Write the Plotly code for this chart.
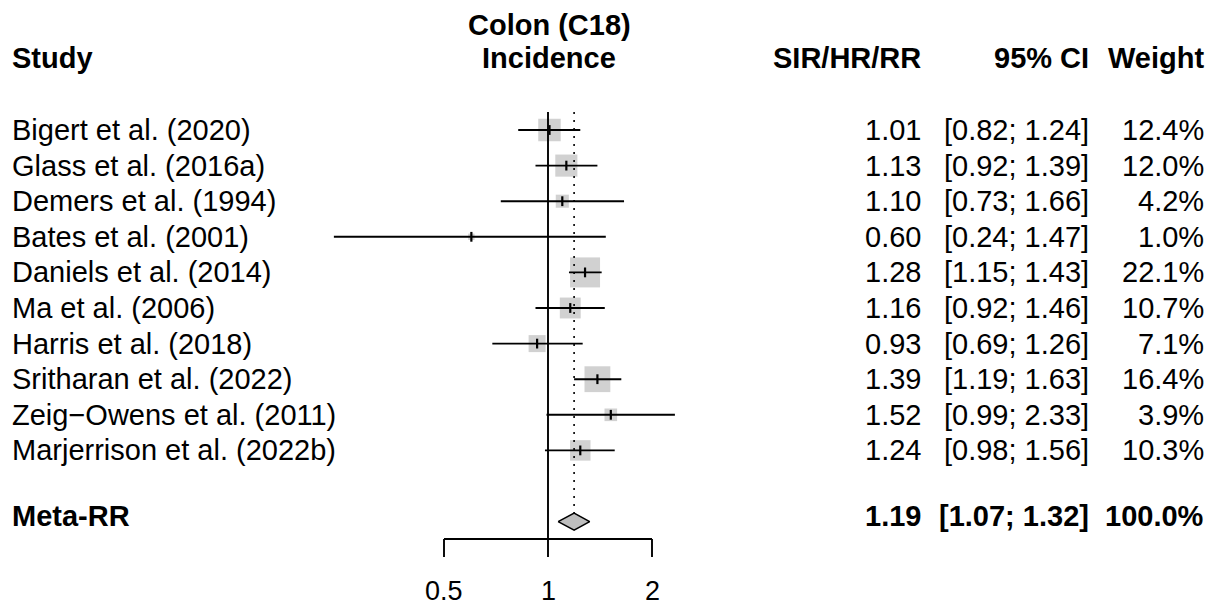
import math
import plotly.graph_objects as go

# ---------------- data ----------------
studies = ["Bigert et al. (2020)", "Glass et al. (2016a)", "Demers et al. (1994)",
           "Bates et al. (2001)", "Daniels et al. (2014)", "Ma et al. (2006)",
           "Harris et al. (2018)", "Sritharan et al. (2022)",
           "Zeig\u2212Owens et al. (2011)", "Marjerrison et al. (2022b)"]
estimates = [1.01, 1.13, 1.10, 0.60, 1.28, 1.16, 0.93, 1.39, 1.52, 1.24]
lower_ci = [0.82, 0.92, 0.73, 0.24, 1.15, 0.92, 0.69, 1.19, 0.99, 0.98]
upper_ci = [1.24, 1.39, 1.66, 1.47, 1.43, 1.46, 1.26, 1.63, 2.33, 1.56]
weights = [12.4, 12.0, 4.2, 1.0, 22.1, 10.7, 7.1, 16.4, 3.9, 10.3]
meta_label = "Meta-RR"
meta_est, meta_lower, meta_upper, meta_weight = 1.19, 1.07, 1.32, 100.0
tick_values = [0.5, 1, 2]
tick_labels = ["0.5", "1", "2"]
header_study = "Study"
header_plot = ["Colon (C18)", "Incidence"]
header_cols = ["SIR/HR/RR", "95% CI", "Weight"]

# ---------------- layout geometry ----------------
W, H = 1216, 607
FONT = "Liberation Sans, Arial, Helvetica, sans-serif"
FS = 29
GRAY = "#BEBEBE"
LW = 1.9
ROW0_PX, ROW_PX = 130.0, 35.6          # pixel centre of first row, row spacing
X1_PX, OCT_PX = 548.0, 104.0            # pixel of value 1, pixels per doubling

def row_of(px):
    return (px - ROW0_PX) / ROW_PX

def log10_of_px(px):
    return (px - X1_PX) / OCT_PX * math.log10(2)

n = len(studies)
rows = list(range(n))
meta_row = n + 1

fig = go.Figure()

# confidence interval lines
ci_x, ci_y = [], []
for r, lo, hi in zip(rows, lower_ci, upper_ci):
    ci_x += [lo, hi, None]
    ci_y += [r, r, None]

# squares (side proportional to sqrt(weight))
k = 30.0 / math.sqrt(max(weights))
fig.add_trace(go.Scatter(
    x=estimates, y=rows, mode="markers",
    marker=dict(symbol="square", size=[k * math.sqrt(w) for w in weights],
                color=GRAY, line=dict(width=0)),
    hoverinfo="skip", showlegend=False))
fig.add_trace(go.Scatter(
    x=ci_x, y=ci_y, mode="lines", line=dict(color="black", width=LW),
    hoverinfo="skip", showlegend=False))
fig.add_trace(go.Scatter(
    x=estimates, y=rows, mode="markers",
    marker=dict(symbol="line-ns", size=7, line=dict(color="black", width=2.2)),
    hoverinfo="skip", showlegend=False))

# diamond
dh = 0.24
fig.add_trace(go.Scatter(
    x=[meta_lower, meta_est, meta_upper, meta_est, meta_lower],
    y=[meta_row, meta_row - dh, meta_row, meta_row + dh, meta_row],
    mode="lines", fill="toself", fillcolor=GRAY,
    line=dict(color="black", width=1.6), hoverinfo="skip", showlegend=False))

# reference lines and axis
axis_row = row_of(539)
tick_row = row_of(557)
top_row = row_of(112)
shapes = [
    dict(type="line", xref="x", yref="y", x0=1, x1=1, y0=top_row, y1=axis_row,
         line=dict(color="black", width=LW)),
    dict(type="line", xref="x", yref="y", x0=meta_est, x1=meta_est, y0=top_row,
         y1=meta_row - dh, line=dict(color="black", width=1.6, dash="2px,6px")),
    dict(type="line", xref="x", yref="y", x0=min(tick_values), x1=max(tick_values),
         y0=axis_row, y1=axis_row, line=dict(color="black", width=LW)),
]
for tv in tick_values:
    shapes.append(dict(type="line", xref="x", yref="y", x0=tv, x1=tv,
                       y0=axis_row, y1=tick_row, line=dict(color="black", width=LW)))

annotations = []

def txt(text, xpx, row, anchor, bold=False, yshift=0):
    annotations.append(dict(
        text=f"<b>{text}</b>" if bold else text, xref="paper", yref="y",
        x=xpx / W, y=row, xanchor=anchor, yanchor="middle", showarrow=False,
        yshift=yshift, borderpad=0,
        font=dict(family=FONT, size=FS, color="black")))

COL_STUDY, COL_EST, COL_CI, COL_W = 11, 922, 1090, 1205

# headers
hdr_row = row_of(58)
txt(header_study, COL_STUDY, hdr_row, "left", True)
txt(header_plot[0], 549, row_of(25), "center", True)
txt(header_plot[1], 549, hdr_row, "center", True)
for label, xpx in zip(header_cols, [COL_EST, COL_CI, COL_W]):
    txt(label, xpx, hdr_row, "right", True)

# study rows
for r, s, e, lo, hi, w in zip(rows, studies, estimates, lower_ci, upper_ci, weights):
    txt(s, COL_STUDY, r, "left")
    txt(f"{e:.2f}", COL_EST, r, "right")
    txt(f"[{lo:.2f}; {hi:.2f}]", COL_CI, r, "right")
    txt(f"{w:.1f}%", COL_W, r, "right")

# meta row
ms = 6
txt(meta_label, COL_STUDY, meta_row, "left", True, ms)
txt(f"{meta_est:.2f}", COL_EST, meta_row, "right", True, ms)
txt(f"[{meta_lower:.2f}; {meta_upper:.2f}]", COL_CI, meta_row, "right", True, ms)
txt(f"{meta_weight:.1f}%", COL_W, meta_row, "right", True, ms)

# tick labels
for tv, tl in zip(tick_values, tick_labels):
    annotations.append(dict(text=tl, xref="x", yref="y", x=math.log10(tv),
                            y=row_of(591), xanchor="center", yanchor="middle",
                            showarrow=False, borderpad=0,
                            font=dict(family=FONT, size=27, color="black")))

fig.update_layout(
    width=W, height=H, margin=dict(l=0, r=0, t=0, b=0),
    paper_bgcolor="white", plot_bgcolor="white",
    xaxis=dict(type="log", range=[log10_of_px(0), log10_of_px(W)], visible=False,
               domain=[0, 1]),
    yaxis=dict(range=[row_of(H), row_of(0)], visible=False, domain=[0, 1]),
    shapes=shapes, annotations=annotations, showlegend=False,
)

fig.write_html("out.html")
